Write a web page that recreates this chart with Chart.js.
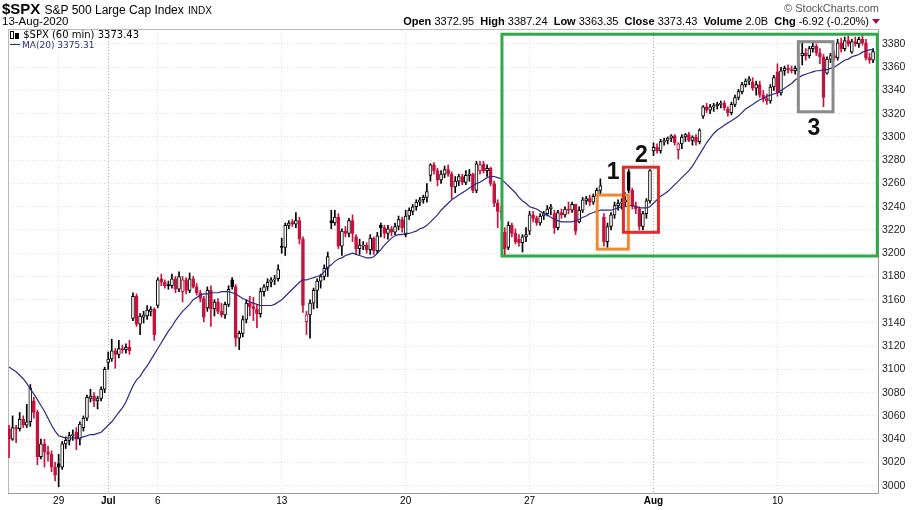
<!DOCTYPE html>
<html lang="en">
<head>
<meta charset="UTF-8">
<title>$SPX S&amp;P 500 Large Cap Index (60 min)</title>
<style>
    body {
        margin: 0;
        background: #fff;
        font-family: Arial, "Liberation Sans", sans-serif;
    }

    #wrap {
        position: relative;
        width: 919px;
        height: 510px;
        overflow: hidden;
    }

    #chart {
        position: absolute;
        left: 0;
        top: 0;
    }

    .txt {
        position: absolute;
        white-space: nowrap;
        line-height: 1;
        color: #000;
    }

    #title { left: 2px; top: 1px; font-size: 15px; font-weight: bold; }
    #title .name { font-size: 12px; font-weight: normal; }
    #title .exch { font-size: 10px; font-weight: normal; }
    #date { left: 2px; top: 16px; font-size: 11.5px; }
    #copy { right: 40px; top: 3px; font-size: 11px; color: #555; }
    #quote { right: 39px; top: 16px; font-size: 11px; }
    #quote b { font-weight: bold; }

    #leg1 {
        left: 10px; top: 29px; height: 11px; padding-right: 3px;
        font-family: "DejaVu Sans", sans-serif; font-size: 10px;
        line-height: 11px;
    }
    #leg2 {
        left: 10px; top: 41px;
        font-family: "DejaVu Sans", sans-serif; font-size: 9px;
        color: #2b2b84;
    }
    .ico {
        display: inline-block; width: 2px; height: 6px; border: 1px solid #000;
        margin-right: 1px; vertical-align: -1px;
    }
    .ico.b { background: #000; height: 4px; }
    .maline {
        display: inline-block; width: 10px; height: 1px; background: #2b2b84;
        vertical-align: 3px; margin-right: 2px;
    }
    .down {
        display: inline-block; width: 0; height: 0;
        border-left: 4px solid transparent; border-right: 4px solid transparent;
        border-top: 5px solid #a01040; margin-left: 3px; vertical-align: 1px;
    }
</style>
</head>
<body>

<div id="wrap">
    <canvas id="chart" width="919" height="510"></canvas>
    <div class="txt" id="title">$SPX <span class="name">S&amp;P 500 Large Cap Index</span> <span class="exch">INDX</span></div>
    <div class="txt" id="date">13-Aug-2020</div>
    <div class="txt" id="copy">© StockCharts.com</div>
    <div class="txt" id="quote"><b>Open</b> 3372.95&nbsp; <b>High</b> 3387.24&nbsp; <b>Low</b> 3363.35&nbsp; <b>Close</b> 3373.43&nbsp; <b>Volume</b> 2.0B&nbsp; <b>Chg</b> -6.92 (-0.20%)<span class="down"></span></div>
    <div class="txt" id="leg1"><span class="ico"></span><span class="ico b"></span> $SPX (60 min) 3373.43</div>
    <div class="txt" id="leg2"><span class="maline"></span>MA(20) 3375.31</div>
</div>

<script src="https://cdn.jsdelivr.net/npm/chart.js"></script>
<script>
    // 60 minute bars, 7 per trading day, 25-Jun-2020 .. 13-Aug-2020 (one row per day)
    const opens = [
        3049, 3040, 3050, 3049, 3057, 3052, 3055,   // Jun 25
        3073, 3063, 3025, 3036, 3029, 3027, 3016,   // Jun 26
        3019, 3016, 3036, 3039, 3043, 3046, 3040,   // Jun 29
        3050, 3058, 3075, 3077, 3073, 3075, 3083,   // Jun 30
        3106, 3109, 3116, 3113, 3118, 3117, 3119,   // Jul 1
        3144, 3163, 3139, 3145, 3146, 3150, 3152,   // Jul 2
        3155, 3178, 3175, 3173, 3172, 3178, 3169,   // Jul 6
        3167, 3177, 3168, 3178, 3171, 3166, 3161,   // Jul 7
        3153, 3168, 3152, 3158, 3150, 3147, 3156,   // Jul 8
        3177, 3171, 3127, 3131, 3143, 3157, 3154,   // Jul 9
        3152, 3148, 3167, 3171, 3175, 3177, 3178,   // Jul 10
        3206, 3205, 3224, 3227, 3225, 3228, 3212,   // Jul 13
        3141, 3147, 3157, 3168, 3176, 3180, 3187,   // Jul 14
        3228, 3226, 3231, 3206, 3219, 3217, 3228,   // Jul 15
        3214, 3204, 3206, 3207, 3203, 3213, 3202,   // Jul 16
        3224, 3222, 3217, 3221, 3218, 3223, 3229,   // Jul 17
        3216, 3232, 3236, 3240, 3244, 3246, 3248,   // Jul 20
        3267, 3276, 3271, 3263, 3268, 3272, 3268,   // Jul 21
        3257, 3262, 3266, 3261, 3267, 3268, 3254,   // Jul 22
        3271, 3277, 3271, 3273, 3260, 3243, 3236,   // Jul 23
        3218, 3205, 3224, 3217, 3212, 3209, 3214,   // Jul 24
        3219, 3233, 3230, 3226, 3232, 3234, 3238,   // Jul 27
        3234, 3222, 3235, 3233, 3238, 3237, 3242,   // Jul 28
        3227, 3237, 3245, 3247, 3244, 3249, 3254,   // Jul 29
        3231, 3210, 3223, 3233, 3241, 3243, 3244,   // Jul 30
        3270, 3254, 3241, 3238, 3223, 3234, 3245,   // Jul 31
        3288, 3291, 3288, 3296, 3297, 3299, 3301,   // Aug 3
        3289, 3294, 3300, 3302, 3297, 3300, 3296,   // Aug 4
        3318, 3326, 3323, 3326, 3327, 3328, 3329,   // Aug 5
        3324, 3321, 3328, 3334, 3339, 3345, 3348,   // Aug 6
        3347, 3342, 3345, 3336, 3333, 3331, 3343,   // Aug 7
        3356, 3338, 3357, 3359, 3358, 3357, 3359,   // Aug 10
        3370, 3372, 3370, 3376, 3378, 3372, 3369,   // Aug 11
        3355, 3367, 3370, 3368, 3381, 3376, 3383,   // Aug 12
        3373, 3382, 3380, 3384, 3381, 3368, 3366    // Aug 13
    ];
    const highs = [
        3052, 3060, 3052, 3063, 3060, 3070, 3087,
        3076, 3065, 3040, 3040, 3034, 3030, 3020,
        3027, 3038, 3042, 3046, 3048, 3050, 3055,
        3060, 3078, 3083, 3080, 3077, 3085, 3102,
        3115, 3126, 3118, 3125, 3121, 3122, 3125,
        3166, 3165, 3148, 3150, 3155, 3154, 3153,
        3179, 3182, 3177, 3176, 3182, 3180, 3184,
        3180, 3179, 3183, 3180, 3174, 3168, 3163,
        3171, 3172, 3160, 3161, 3157, 3158, 3172,
        3179, 3173, 3133, 3146, 3160, 3163, 3162,
        3156, 3170, 3173, 3178, 3179, 3181, 3190,
        3213, 3226, 3228, 3229, 3235, 3231, 3214,
        3150, 3160, 3170, 3178, 3182, 3190, 3201,
        3237, 3237, 3234, 3221, 3223, 3230, 3233,
        3216, 3212, 3210, 3209, 3216, 3214, 3218,
        3226, 3224, 3224, 3223, 3226, 3232, 3231,
        3237, 3239, 3242, 3246, 3248, 3250, 3260,
        3277, 3278, 3273, 3271, 3275, 3276, 3270,
        3266, 3268, 3268, 3271, 3272, 3269, 3279,
        3279, 3279, 3276, 3274, 3262, 3246, 3240,
        3222, 3227, 3226, 3221, 3216, 3216, 3222,
        3236, 3236, 3232, 3234, 3236, 3241, 3242,
        3237, 3237, 3238, 3240, 3244, 3244, 3242,
        3240, 3248, 3249, 3250, 3251, 3256, 3264,
        3234, 3226, 3235, 3244, 3246, 3247, 3252,
        3272, 3256, 3244, 3240, 3236, 3247, 3272,
        3295, 3294, 3298, 3299, 3300, 3302, 3302,
        3295, 3302, 3303, 3304, 3301, 3302, 3307,
        3327, 3329, 3328, 3329, 3330, 3331, 3331,
        3326, 3330, 3336, 3341, 3347, 3350, 3352,
        3351, 3348, 3348, 3340, 3337, 3345, 3353,
        3363, 3360, 3361, 3362, 3361, 3361, 3363,
        3381, 3376, 3378, 3381, 3380, 3376, 3371,
        3369, 3372, 3374, 3384, 3385, 3386, 3387,
        3384, 3386, 3386, 3387.24, 3384, 3372, 3376
    ];
    const lows = [
        3024, 3039, 3037, 3047, 3050, 3050, 3051,
        3058, 3018, 3023, 3016, 3021, 3012, 3004,
        2999, 3014, 3032, 3035, 3039, 3031, 3035,
        3047, 3056, 3072, 3068, 3066, 3073, 3080,
        3100, 3107, 3101, 3110, 3114, 3114, 3113,
        3142, 3137, 3130, 3140, 3143, 3146, 3125,
        3153, 3172, 3170, 3169, 3170, 3166, 3167,
        3158, 3165, 3166, 3170, 3164, 3158, 3141,
        3150, 3137, 3146, 3148, 3145, 3144, 3154,
        3169, 3120, 3117, 3128, 3140, 3146, 3142,
        3136, 3145, 3163, 3168, 3171, 3173, 3176,
        3200, 3198, 3221, 3223, 3222, 3208, 3149,
        3130, 3127, 3152, 3153, 3170, 3177, 3180,
        3221, 3224, 3204, 3198, 3214, 3214, 3210,
        3199, 3199, 3203, 3200, 3199, 3199, 3200,
        3214, 3213, 3212, 3215, 3216, 3220, 3218,
        3214, 3229, 3233, 3237, 3241, 3243, 3244,
        3262, 3268, 3258, 3260, 3265, 3266, 3247,
        3252, 3258, 3259, 3259, 3262, 3252, 3252,
        3268, 3269, 3266, 3258, 3240, 3222, 3229,
        3198, 3203, 3214, 3208, 3206, 3201, 3210,
        3216, 3227, 3224, 3224, 3229, 3232, 3233,
        3217, 3220, 3230, 3231, 3234, 3235, 3216,
        3226, 3235, 3242, 3241, 3242, 3246, 3250,
        3206, 3205, 3220, 3230, 3237, 3238, 3240,
        3252, 3238, 3234, 3220, 3220, 3230, 3243,
        3284, 3286, 3286, 3293, 3294, 3296, 3293,
        3281, 3290, 3296, 3296, 3293, 3293, 3294,
        3316, 3321, 3320, 3322, 3324, 3325, 3323,
        3318, 3319, 3326, 3332, 3337, 3343, 3345,
        3340, 3336, 3334, 3330, 3328, 3329, 3340,
        3335, 3336, 3353, 3355, 3355, 3354, 3356,
        3362, 3366, 3368, 3373, 3370, 3363, 3326,
        3354, 3364, 3366, 3366, 3373, 3374, 3378,
        3372, 3378, 3377, 3379, 3366, 3363.35, 3364
    ];
    const closes = [
        3040, 3050, 3049, 3057, 3052, 3055, 3084,
        3063, 3025, 3036, 3029, 3027, 3016, 3009,
        3016, 3036, 3039, 3043, 3044, 3040, 3053,
        3058, 3076, 3077, 3073, 3075, 3083, 3100,
        3109, 3116, 3113, 3118, 3117, 3119, 3116,
        3163, 3139, 3146, 3147, 3151, 3152, 3130,
        3177, 3175, 3172, 3172, 3178, 3169, 3180,
        3177, 3168, 3178, 3171, 3166, 3161, 3145,
        3168, 3152, 3158, 3150, 3147, 3156, 3169,
        3171, 3127, 3131, 3143, 3157, 3154, 3152,
        3148, 3167, 3171, 3175, 3177, 3178, 3186,
        3205, 3224, 3226, 3225, 3228, 3212, 3155,
        3147, 3157, 3168, 3176, 3180, 3187, 3197,
        3226, 3231, 3206, 3219, 3217, 3228, 3217,
        3204, 3207, 3207, 3203, 3213, 3202, 3215,
        3222, 3217, 3221, 3218, 3223, 3229, 3222,
        3232, 3237, 3240, 3244, 3246, 3248, 3253,
        3276, 3271, 3263, 3268, 3272, 3268, 3257,
        3262, 3266, 3261, 3267, 3268, 3254, 3277,
        3276, 3271, 3273, 3260, 3243, 3236, 3235,
        3204, 3224, 3217, 3210, 3209, 3214, 3216,
        3233, 3230, 3226, 3232, 3234, 3238, 3240,
        3222, 3235, 3233, 3238, 3237, 3242, 3219,
        3237, 3246, 3247, 3244, 3249, 3254, 3258,
        3210, 3223, 3233, 3241, 3243, 3244, 3246,
        3254, 3241, 3238, 3223, 3234, 3245, 3271,
        3291, 3288, 3296, 3297, 3299, 3301, 3295,
        3294, 3300, 3302, 3297, 3300, 3296, 3306,
        3326, 3323, 3326, 3327, 3328, 3329, 3325,
        3321, 3328, 3334, 3339, 3345, 3348, 3350,
        3342, 3345, 3336, 3333, 3331, 3343, 3351,
        3338, 3357, 3359, 3358, 3357, 3359, 3360,
        3372, 3370, 3376, 3378, 3372, 3369, 3334,
        3367, 3370, 3368, 3381, 3376, 3383, 3380,
        3382, 3380, 3384, 3381, 3368, 3366, 3373.43
    ];
    // MA(20) as plotted
    const maValues = [
        3102, 3100, 3098, 3095, 3092, 3088, 3083,
        3079, 3074, 3069, 3064, 3058, 3052, 3047,
        3043, 3042, 3041, 3041, 3041, 3041, 3041,
        3042, 3043, 3044, 3044, 3045, 3046, 3049,
        3052, 3055, 3059, 3063, 3067, 3072, 3079,
        3086, 3091, 3094, 3099, 3103, 3108, 3113,
        3118, 3123, 3128, 3133, 3137, 3142, 3146,
        3150, 3153, 3156, 3160, 3162, 3164, 3165,
        3165, 3166, 3166, 3166, 3167, 3167, 3167,
        3166, 3165, 3163, 3161, 3160, 3158, 3157,
        3156, 3155, 3155, 3155, 3155, 3156, 3158,
        3160, 3163, 3166, 3169, 3172, 3175, 3177,
        3177, 3178, 3179, 3180, 3181, 3184, 3188,
        3190, 3193, 3195, 3196, 3198, 3199, 3200,
        3199, 3198, 3197, 3196, 3196, 3197, 3200,
        3203, 3207, 3210, 3213, 3215, 3216, 3216,
        3217, 3217, 3218, 3219, 3221, 3222, 3224,
        3227, 3230, 3233, 3237, 3240, 3243, 3246,
        3248, 3250, 3252, 3254, 3256, 3258, 3260,
        3261, 3263, 3265, 3266, 3266, 3265, 3264,
        3261, 3258, 3255, 3252, 3248, 3245, 3243,
        3240, 3239, 3238, 3236, 3234, 3233, 3231,
        3229, 3228, 3227, 3227, 3227, 3227, 3228,
        3229, 3231, 3232, 3234, 3235, 3236, 3237,
        3237, 3237, 3237, 3238, 3239, 3240, 3240,
        3241, 3241, 3240, 3239, 3239, 3239, 3240,
        3243, 3246, 3249, 3251, 3253, 3256, 3259,
        3262, 3265, 3268, 3271, 3275, 3280, 3285,
        3290, 3295, 3299, 3303, 3306, 3308, 3310,
        3312, 3314, 3316, 3318, 3321, 3324, 3326,
        3328, 3330, 3332, 3333, 3335, 3336, 3337,
        3338, 3340, 3342, 3344, 3346, 3349, 3351,
        3353, 3354, 3355, 3356, 3357, 3357, 3358,
        3358, 3359, 3360, 3362, 3364, 3366, 3367,
        3369, 3370, 3371, 3373, 3374, 3375, 3375.31
    ];

    // bar index of the first bar of each week, and its label
    const weekTicks = [14, 28, 42, 77, 112, 147, 182, 217];
    const weekLabels = ['29', 'Jul', '6', '13', '20', '27', 'Aug', '10'];
    const monthTicks = [28, 182];
    const yTicks = [3000, 3020, 3040, 3060, 3080, 3100, 3120, 3140, 3160, 3180,
                    3200, 3220, 3240, 3260, 3280, 3300, 3320, 3340, 3360, 3380];

    // highlight boxes drawn on the chart (bar index range, price range)
    const highlightBoxes = [
        { from: 139.2, to: 245.2, low: 3197.6, high: 3388.4, color: '#2eaa4a' },
        { from: 166.1, to: 174.9, low: 3203.5, high: 3250.0, color: '#f08a32' },
        { from: 173.5, to: 183.4, low: 3218.0, high: 3274.0, color: '#e12c2c' },
        { from: 222.9, to: 232.7, low: 3321.7, high: 3382.0, color: '#8a8a8a' }
    ];
    const boxNotes = [
        { text: '1', at: 170.6, value: 3269 },
        { text: '2', at: 178.6, value: 3284 },
        { text: '3', at: 227.3, value: 3307 }
    ];

    const RED = '#c8113d';
    const INK = '#000000';
    const MA_BLUE = '#2b2b84';

    function outline(i) {
        if (i === undefined) return INK;
        const prev = i > 0 ? closes[i - 1] : opens[i];
        return closes[i] < prev ? RED : INK;
    }
    function fill(i) {
        if (i === undefined) return '#fff';
        return closes[i] < opens[i] ? outline(i) : '#ffffff';
    }

    const decorations = {
        id: 'decorations',
        beforeDatasetsDraw(chart) {
            const { ctx, chartArea: a } = chart;
            ctx.save();
            ctx.strokeStyle = '#b8b8b8';
            ctx.lineWidth = 1;
            ctx.beginPath();
            ctx.moveTo(a.left, a.top + 0.5);
            ctx.lineTo(a.right, a.top + 0.5);
            ctx.moveTo(a.left + 0.5, a.top);
            ctx.lineTo(a.left + 0.5, a.bottom);
            ctx.stroke();
            ctx.restore();
        },
        afterDatasetsDraw(chart) {
            const { ctx, scales: { x, y } } = chart;
            ctx.save();
            ctx.lineWidth = 3;
            highlightBoxes.forEach(b => {
                const left = x.getPixelForValue(b.from);
                const right = x.getPixelForValue(b.to);
                const top = y.getPixelForValue(b.high);
                const bottom = y.getPixelForValue(b.low);
                ctx.strokeStyle = b.color;
                ctx.strokeRect(left, top, right - left, bottom - top);
            });
            ctx.fillStyle = '#111';
            ctx.font = 'bold 23px Arial, "Liberation Sans", sans-serif';
            ctx.textAlign = 'center';
            ctx.textBaseline = 'middle';
            boxNotes.forEach(n => {
                ctx.fillText(n.text, x.getPixelForValue(n.at), y.getPixelForValue(n.value));
            });
            ctx.restore();
        }
    };

    new Chart(document.getElementById('chart'), {
        type: 'bar',
        data: {
            datasets: [
                {
                    type: 'line',
                    label: 'MA(20)',
                    data: maValues.map((v, i) => ({ x: i, y: v })),
                    borderColor: MA_BLUE,
                    borderWidth: 1.2,
                    pointRadius: 0,
                    tension: 0,
                    order: 0
                },
                {
                    label: 'body',
                    data: opens.map((o, i) => ({ x: i, y: [o, closes[i]] })),
                    backgroundColor: c => fill(c.dataIndex),
                    borderColor: c => outline(c.dataIndex),
                    borderWidth: 1,
                    borderSkipped: false,
                    barThickness: 3,
                    minBarLength: 1,
                    grouped: false,
                    order: 1
                },
                {
                    label: 'wick',
                    data: lows.map((l, i) => ({ x: i, y: [l, highs[i]] })),
                    backgroundColor: c => outline(c.dataIndex),
                    borderWidth: 0,
                    barThickness: 1,
                    grouped: false,
                    order: 2
                }
            ]
        },
        options: {
            responsive: false,
            animation: false,
            events: [],
            layout: { padding: { left: 8, top: 29, right: 0, bottom: 0 } },
            plugins: {
                legend: { display: false },
                tooltip: { enabled: false }
            },
            scales: {
                x: {
                    type: 'linear',
                    min: -0.3,
                    max: 245.4,
                    offset: false,
                    afterBuildTicks: s => { s.ticks = weekTicks.map(v => ({ value: v })); },
                    afterFit: s => { s.height = 17; },
                    grid: {
                        offset: false,
                        drawTicks: false,
                        color: c => (c.tick && monthTicks.includes(c.tick.value)) ? '#b2b2b2' : '#dedede'
                    },
                    border: { display: true, color: '#9a9a9a', dash: [1, 2] },
                    ticks: {
                        autoSkip: false,
                        maxRotation: 0,
                        padding: 2,
                        color: '#000',
                        font: c => ({
                            family: 'Arial, "Liberation Sans", sans-serif',
                            size: 10,
                            weight: (c.tick && monthTicks.includes(c.tick.value)) ? 'bold' : 'normal'
                        }),
                        callback: v => weekLabels[weekTicks.indexOf(v)]
                    }
                },
                y: {
                    position: 'right',
                    min: 2993.7,
                    max: 3392.9,
                    afterBuildTicks: s => { s.ticks = yTicks.map(v => ({ value: v })); },
                    afterFit: s => { s.width = 41; },
                    grid: { drawTicks: false, color: '#dedede' },
                    border: { display: true, color: '#9a9a9a', dash: [1, 2] },
                    ticks: {
                        padding: 4,
                        color: '#222',
                        font: { family: 'Arial, "Liberation Sans", sans-serif', size: 10.5 },
                        callback: v => String(v)
                    }
                }
            }
        },
        plugins: [decorations]
    });
</script>

</body>
</html>
